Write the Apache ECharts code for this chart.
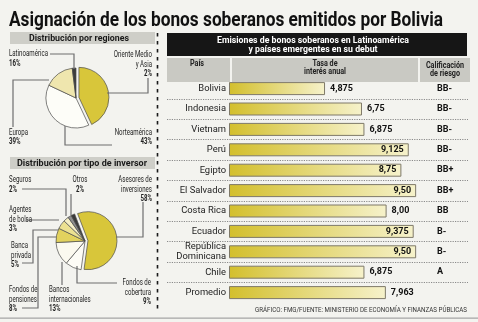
<!DOCTYPE html>
<html><head><meta charset="utf-8">
<script src="https://cdn.jsdelivr.net/npm/echarts@6/dist/echarts.min.js"></script>
<style>html,body{margin:0;padding:0;background:#f3f3ef}#c{width:478px;height:322px}</style>
</head><body><div id="c"></div><script>
// ---------- data ----------
const titleText = 'Asignación de los bonos soberanos emitidos por Bolivia';
const regionNames = ['Norteamérica', 'Europa', 'Latinoamérica', 'Oriente Medio\ny Asia'];
const regionValues = [43, 39, 16, 2];
const investorNames = ['Asesores de\ninversiones', 'Fondos de\ncobertura', 'Bancos\ninternacionales', 'Fondos de\npensiones', 'Banca\nprivada', 'Agentes\nde bolsa', 'Seguros', 'Otros'];
const investorValues = [58, 9, 13, 8, 5, 3, 2, 2];
const countries = ['Bolivia', 'Indonesia', 'Vietnam', 'Perú', 'Egipto', 'El Salvador', 'Costa Rica', 'Ecuador', 'República\nDominicana', 'Chile', 'Promedio'];
const rates = [4.875, 6.75, 6.875, 9.125, 8.75, 9.5, 8.0, 9.375, 9.5, 6.875, 7.963];
const rateLabels = ['4,875', '6,75', '6,875', '9,125', '8,75', '9,50', '8,00', '9,375', '9,50', '6,875', '7,963'];
const ratings = ['BB-', 'BB-', 'BB-', 'BB-', 'BB+', 'BB+', 'BB', 'B-', 'B-', 'A', ''];
const tableTitle = ['Emisiones de bonos soberanos en Latinoamérica', 'y países emergentes en su debut'];
const colHeaders = [['País'], ['Tasa de', 'interés anual'], ['Calificación', 'de riesgo']];
const panelTitles = ['Distribución por regiones', 'Distribución por tipo de inversor'];
const sourceText = 'GRÁFICO: FMG/FUENTE: MINISTERIO DE ECONOMÍA Y FINANZAS PÚBLICAS';

// ---------- styles / layout ----------
const FONT = 'Roboto, "Liberation Sans", sans-serif';
const YEL = '#d8c63a';
const regionColors = [YEL, '#fdfdf8', '#efe6ae', '#3c3c3c'];
const investorColors = [YEL, '#fdfcf6', '#fbf9ef', '#e2d25e', '#ece191', '#f4eec6', '#8e8e8e', '#3a3a3a'];
const regionLabelLayout = [
  {x: 152, y: 128, align: 'right', line: [[112,145],[65,145],[65,126]]},
  {x: 9, y: 128, align: 'left', line: [[49,80],[13,80],[13,127]]},
  {x: 9, y: 49.5, align: 'left', line: [[50,54],[74,54],[74,69]]},
  {x: 152, y: 50.5, align: 'right', line: [[148,78],[148,93],[107,93]]}
];
const investorLabelLayout = [
  {x: 152, y: 175.5, align: 'right', line: [[143,202],[143,237],[116,237]]},
  {x: 151, y: 278.5, align: 'right', line: [[117,283],[77,283],[77,266]]},
  {x: 49, y: 285.5, align: 'left', line: [[62,285],[62,262]]},
  {x: 9, y: 285.5, align: 'left', line: [[22,308],[38,308],[38,237],[56,237]]},
  {x: 11, y: 241.5, align: 'left', line: [[22,263],[33,263],[33,230],[58,230]]},
  {x: 9, y: 205.5, align: 'left', line: [[26,220],[59,220]]},
  {x: 9, y: 175.5, align: 'left', line: [[22,189],[66,189],[66,216]]},
  {x: 80, y: 175.5, align: 'center', line: [[71,194],[71,215]]}
];
const BAR_ZERO_X = 229, PX_PER_UNIT = 19.7, TABLE_L = 167, TABLE_R = 468;

const ctx = document.createElement('canvas').getContext('2d');
function measure(text, font) { ctx.font = font; return ctx.measureText(text).width; }
function txt(text, x, y, size, weight, align, targetW, color, scale) {
  const font = weight + ' ' + size + 'px ' + FONT;
  const s = scale || (targetW ? targetW / measure(text, font) : 1);
  return {type: 'text', x: x, y: y, scaleX: s, z: 20,
    style: {text: text, font: font, fill: color || '#222', align: align, verticalAlign: 'middle'}};
}
const LBL_SIZE = 8.4;
const LSCALE = 39 / measure('Latinoamérica', 'normal ' + LBL_SIZE + 'px ' + FONT);
function pieLabel(name, pct, lay) {
  const lines = name.split('\n').map(l => '{n|' + l + '}');
  lines.push('{p|' + pct + '%}');
  const rs = {fontSize: LBL_SIZE, fontFamily: FONT, fill: '#1e1e1e', lineHeight: 9.3, align: lay.align};
  return {type: 'text', x: lay.x, y: lay.y, scaleX: LSCALE, z: 20,
    style: {text: lines.join('\n'), align: lay.align, verticalAlign: 'top',
      rich: {n: rs, p: Object.assign({}, rs, {fontWeight: 'bold'})}}};
}
function leader(pts) {
  return {type: 'polyline', z: 5, shape: {points: pts}, style: {stroke: '#6e6e6e', lineWidth: 1.2, fill: null}};
}

const g = [];
// title
g.push(txt(titleText, 9, 20.5, 20.5, 'bold', 'left', 434, '#111'));
// left panel headers
g.push({type: 'rect', shape: {x: 10, y: 32, width: 145, height: 12}, style: {fill: '#cecec8'}, z: 1});
g.push({type: 'rect', shape: {x: 10, y: 157, width: 145, height: 12}, style: {fill: '#cecec8'}, z: 1});
g.push(txt(panelTitles[0], 79, 38.5, 9.5, 'bold', 'center', 100, '#1a1a1a'));
g.push(txt(panelTitles[1], 82, 163.5, 9.5, 'bold', 'center', 130, '#1a1a1a'));
// dashed separator
g.push({type: 'line', shape: {x1: 157.5, y1: 33, x2: 157.5, y2: 312}, style: {stroke: '#1a1a1a', lineWidth: 1.6, lineDash: [3.5, 4.5]}, z: 1});
// pie labels
regionNames.forEach((n, i) => { g.push(pieLabel(n, regionValues[i], regionLabelLayout[i])); g.push(leader(regionLabelLayout[i].line)); });
investorNames.forEach((n, i) => { g.push(pieLabel(n, investorValues[i], investorLabelLayout[i])); g.push(leader(investorLabelLayout[i].line)); });
// table header
g.push({type: 'rect', shape: {x: 167, y: 33, width: 300, height: 23}, style: {fill: '#161616'}, z: 10});
const ttScale = 192 / measure(tableTitle[0], 'bold 9.8px ' + FONT);
g.push(txt(tableTitle[0], 313, 40.5, 9.8, 'bold', 'center', null, '#fff', ttScale));
g.push(txt(tableTitle[1], 313, 49.5, 9.8, 'bold', 'center', null, '#fff', ttScale));
const cells = [[167, 63, 197], [232, 186, 325], [420, 50, 445]];
const hScale = 42 / measure('interés anual', 'bold 8.8px ' + FONT);
cells.forEach((c, i) => {
  g.push({type: 'rect', shape: {x: c[0], y: 58, width: c[1], height: 24}, style: {fill: '#c9c9c3'}, z: 10});
  const h = colHeaders[i];
  const y0 = h.length === 1 ? 63.5 : (i === 2 ? 65.5 : 63.5);
  h.forEach((t, k) => g.push(txt(t, c[2], y0 + k * 8.8, 8.8, 'bold', 'center', null, '#222', hScale)));
});
// footer
g.push(txt(sourceText, 467, 310.5, 7, 'normal', 'right', 212, '#333'));
g.push({type: 'rect', shape: {x: 0, y: 317.5, width: 478, height: 1.3}, style: {fill: '#a5a5a5'}, z: 1});

const barGrad = new echarts.graphic.LinearGradient(0, 0, 1, 0, [{offset: 0, color: '#d3bf2c'}, {offset: 1, color: '#f6f2cb'}]);

const option = {
  backgroundColor: '#f3f3ef',
  animation: false,
  graphic: g,
  grid: {left: TABLE_L, right: 478 - TABLE_R, top: 78.4, height: 224.4, containLabel: false},
  xAxis: {type: 'value', show: false,
    min: (TABLE_L - BAR_ZERO_X) / PX_PER_UNIT, max: (TABLE_R - BAR_ZERO_X) / PX_PER_UNIT,
    splitLine: {show: false}},
  yAxis: [
    {type: 'category', data: countries, inverse: true, position: 'left',
      axisLine: {show: false}, axisTick: {show: false},
      axisLabel: {inside: true, margin: BAR_ZERO_X - TABLE_L - 3, align: 'right', interval: 0,
        fontFamily: FONT, fontSize: 9.4, color: '#222', lineHeight: 9.5},
      splitLine: {show: true, showMinLine: false, showMaxLine: false, interval: 0,
        lineStyle: {type: [1.2, 1.2], color: '#8a8a8a', width: 1}}},
    {type: 'category', data: ratings, inverse: true, position: 'right',
      axisLine: {show: false}, axisTick: {show: false}, splitLine: {show: false},
      axisLabel: {inside: true, margin: TABLE_R - 437, align: 'left', interval: 0,
        fontFamily: FONT, fontSize: 9, fontWeight: 'bold', color: '#111'}}
  ],
  series: [
    {type: 'pie', center: [76, 98], radius: 30, startAngle: 90, selectedMode: 'single', selectedOffset: 3,
      label: {show: false}, labelLine: {show: false}, emphasis: {scale: false}, silent: true,
      itemStyle: {borderColor: '#4a4a4a', borderWidth: 0.7},
      data: regionNames.map((n, i) => ({name: n.replace('\n', ' '), value: regionValues[i], selected: i === 0, itemStyle: {color: regionColors[i]}}))},
    {type: 'pie', center: [85, 241], radius: 29, startAngle: 111, selectedMode: 'single', selectedOffset: 3,
      label: {show: false}, labelLine: {show: false}, emphasis: {scale: false}, silent: true,
      itemStyle: {borderColor: '#4a4a4a', borderWidth: 0.7},
      data: investorNames.map((n, i) => ({name: n.replace('\n', ' '), value: investorValues[i], selected: i === 0, itemStyle: {color: investorColors[i]}}))},
    {type: 'bar', xAxisIndex: 0, yAxisIndex: 0, barWidth: 13, silent: true,
      itemStyle: {color: barGrad, borderColor: '#7e7968', borderWidth: 1},
      data: rates.map((v, i) => ({value: v, label: {position: v > 8.5 ? 'insideRight' : 'right'}})),
      label: {show: true, distance: 5, formatter: p => rateLabels[p.dataIndex],
        fontFamily: FONT, fontSize: 9, fontWeight: 'bold', color: '#111'}}
  ]
};
const chart = echarts.init(document.getElementById('c'), null, {renderer: 'canvas'});
chart.setOption(option);
</script></body></html>
